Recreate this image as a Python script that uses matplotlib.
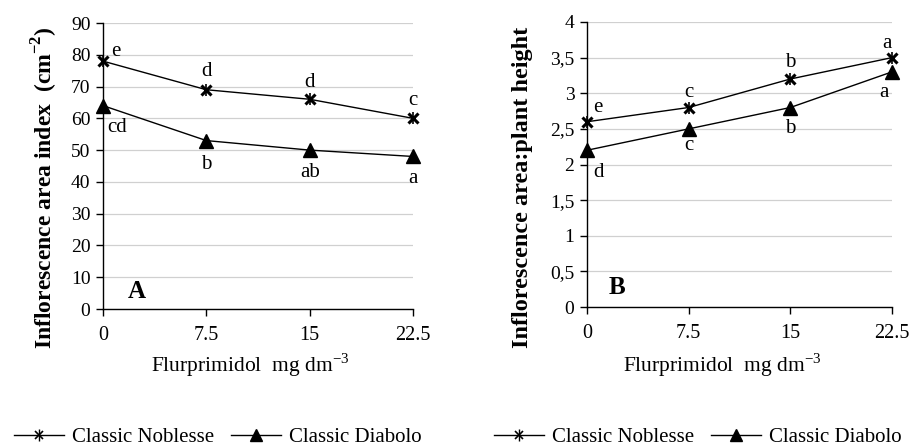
import matplotlib
matplotlib.use("Agg")
import matplotlib.pyplot as plt
from matplotlib.lines import Line2D
from matplotlib.legend_handler import HandlerTuple

plt.rcParams['font.family'] = ['Liberation Serif', 'DejaVu Serif']
plt.rcParams['mathtext.fontset'] = 'custom'
plt.rcParams['mathtext.rm'] = 'Liberation Serif'
plt.rcParams['mathtext.bf'] = 'Liberation Serif:bold'

doses = [0, 7.5, 15, 22.5]
dose_labels = ["0", "7.5", "15", "22.5"]
series_names = ["Classic Noblesse", "Classic Diabolo"]

a_noblesse = [78, 69, 66, 60]
a_diabolo = [64, 53, 50, 48]
a_noblesse_letters = ["e", "d", "d", "c"]
a_diabolo_letters = ["cd", "b", "ab", "a"]

b_noblesse = [2.6, 2.8, 3.2, 3.5]
b_diabolo = [2.2, 2.5, 2.8, 3.3]
b_noblesse_letters = ["e", "c", "b", "a"]
b_diabolo_letters = ["d", "c", "b", "a"]

a_yticks = [0, 10, 20, 30, 40, 50, 60, 70, 80, 90]
b_yticks = [0, 0.5, 1, 1.5, 2, 2.5, 3, 3.5, 4]
b_ytick_labels = ["0", "0,5", "1", "1,5", "2", "2,5", "3", "3,5", "4"]

W, H = 912, 447
fig = plt.figure(figsize=(W / 100, H / 100), dpi=100)


def setup(ax, yticks, ylabels, ylim):
    ax.set_xlim(0, 22.5)
    ax.set_ylim(*ylim)
    ax.set_xticks(doses)
    ax.set_xticklabels(dose_labels, fontsize=14.5)
    ax.set_yticks(yticks)
    ax.set_yticklabels(ylabels, fontsize=14)
    ax.grid(axis='y', color='#d0d0d0', lw=0.9)
    ax.set_axisbelow(True)
    for s in ['top', 'right']:
        ax.spines[s].set_visible(False)
    for s in ['left', 'bottom']:
        ax.spines[s].set_color('black')
        ax.spines[s].set_linewidth(1.0)
    ax.tick_params(axis='both', direction='out', length=5, width=1, colors='black', pad=4)
    ax.tick_params(axis='x', pad=7)


def draw(ax, n, d, nl, dl, n_off, d_off):
    ax.plot(doses, n, color='black', lw=1, clip_on=False, zorder=3)
    ax.plot(doses, n, ls='none', marker='x', ms=7, mew=2.2, color='black', clip_on=False, zorder=4)
    ax.plot(doses, n, ls='none', marker='|', ms=9, mew=1.2, color='black', clip_on=False, zorder=4)
    ax.plot(doses, d, color='black', lw=1, marker='^', ms=9.5, mfc='black', mec='black',
            clip_on=False, zorder=3)
    for i, (x, y) in enumerate(zip(doses, n)):
        ax.annotate(nl[i], (x, y), xytext=n_off[i], textcoords='offset points',
                    ha='center', va='center', fontsize=15)
    for i, (x, y) in enumerate(zip(doses, d)):
        ax.annotate(dl[i], (x, y), xytext=d_off[i], textcoords='offset points',
                    ha='center', va='center', fontsize=15)


axA = fig.add_axes([103 / W, 1 - 309 / H, 310 / W, 286 / H])
setup(axA, a_yticks, [str(t) for t in a_yticks], (0, 90))
draw(axA, a_noblesse, a_diabolo, a_noblesse_letters, a_diabolo_letters,
     [(9, 7), (0, 13), (0, 12), (0, 13)],
     [(10, -16), (0, -17), (0, -16), (0, -16)])
axA.text(0.11, 0.06, "A", transform=axA.transAxes, fontsize=18, fontweight='bold',
         ha='center', va='center')

axB = fig.add_axes([587 / W, 1 - 307 / H, 305 / W, 285 / H])
setup(axB, b_yticks, b_ytick_labels, (0, 4))
draw(axB, b_noblesse, b_diabolo, b_noblesse_letters, b_diabolo_letters,
     [(8, 10), (0, 11), (0, 12), (-4, 10)],
     [(8, -16), (0, -12), (0, -15), (-6, -15)])
axB.text(0.10, 0.067, "B", transform=axB.transAxes, fontsize=18, fontweight='bold',
         ha='center', va='center')

fig.text(45 / W, 1 - 188 / H, r"Inflorescence area index  (cm$^{\mathbf{-2}}$)",
         rotation=90, ha='center', va='center', fontsize=17, fontweight='bold')
fig.text(523 / W, 1 - 187 / H, "Inflorescence area:plant height",
         rotation=90, ha='center', va='center', fontsize=17.5, fontweight='bold')

fig.text(250 / W, 1 - 365 / H, r"Flurprimidol  mg dm$^{-3}$", ha='center', va='center', fontsize=15.5)
fig.text(722 / W, 1 - 365 / H, r"Flurprimidol  mg dm$^{-3}$", ha='center', va='center', fontsize=15.5)

h_star = (Line2D([], [], color='black', lw=1),
          Line2D([], [], ls='none', marker='x', ms=6, mew=1.2, color='black'),
          Line2D([], [], ls='none', marker='|', ms=8, mew=1.0, color='black'))
h_tri = Line2D([], [], color='black', lw=1, marker='^', ms=9, mfc='black')
for cx in [218, 698]:
    fig.legend([h_star, h_tri], series_names, loc='center', bbox_to_anchor=(cx / W, 1 - 437 / H),
               ncol=2, frameon=False, fontsize=15, handlelength=2.4, handletextpad=0.4,
               columnspacing=0.8, borderpad=0,
               handler_map={tuple: HandlerTuple(ndivide=1, pad=0)})

fig.savefig("out.png", dpi=100)
